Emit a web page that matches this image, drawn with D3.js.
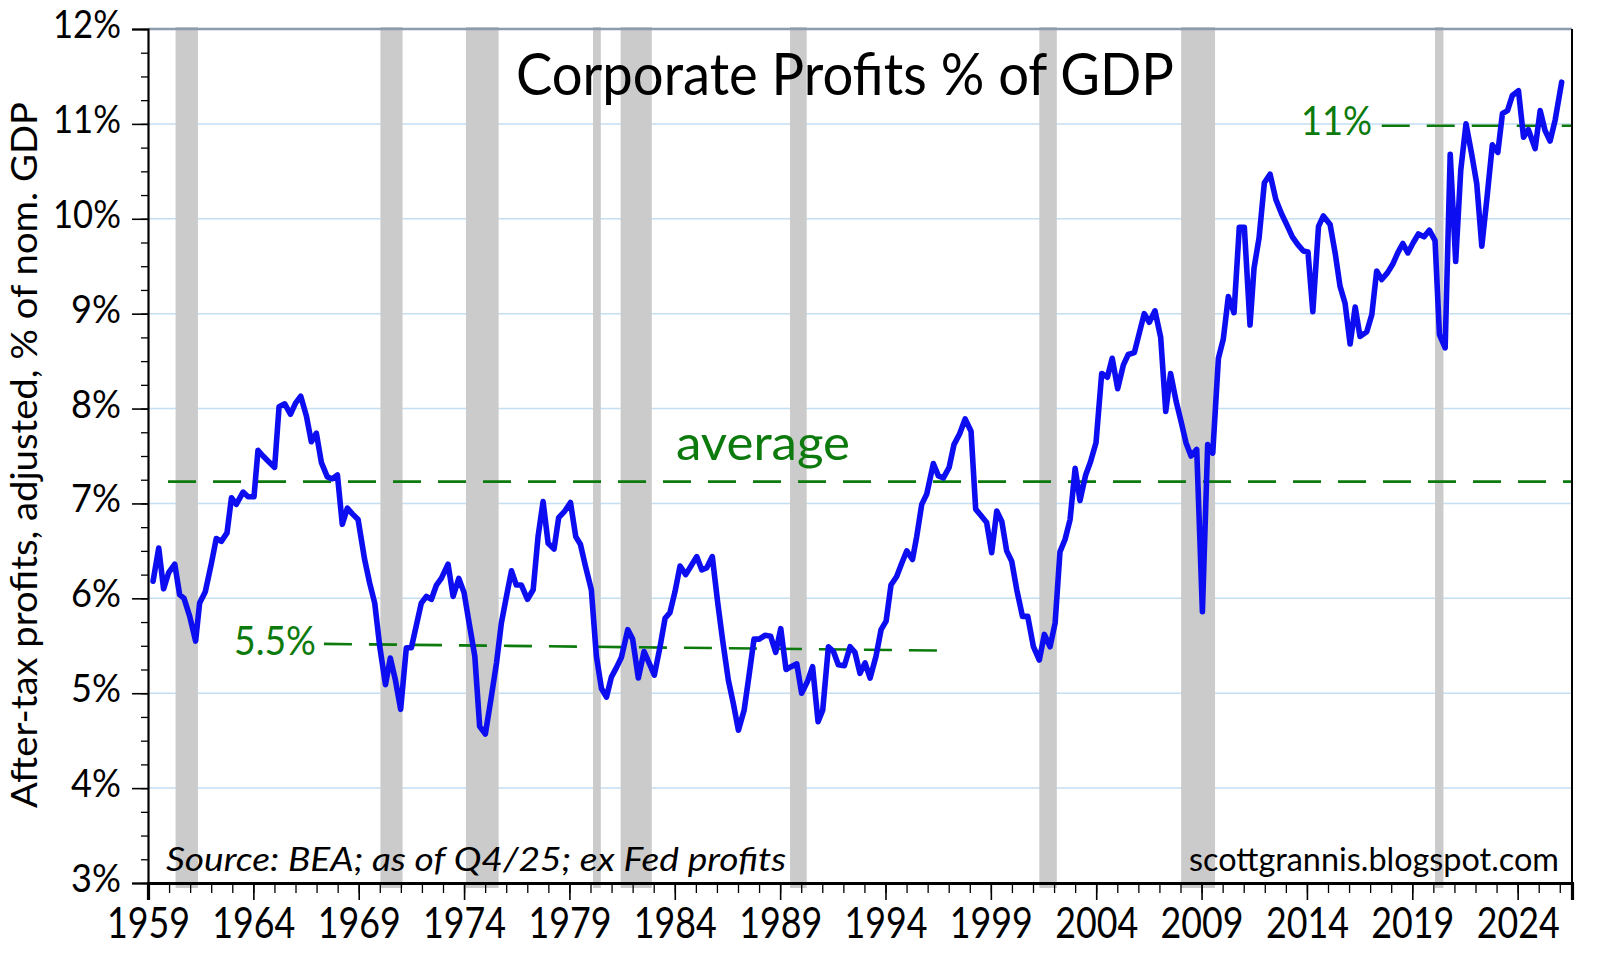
<!DOCTYPE html>
<html lang="en">
<head>
<meta charset="UTF-8">
<title>Corporate Profits % of GDP</title>
<style>
    body { margin: 0; background: #fff; }
    svg { display: block; font-family: Lato, "Open Sans", sans-serif; }
    .tick text { fill: #000; }
</style>
</head>
<body>
<svg id="chart" width="1600" height="962"></svg>
<script src="https://cdn.jsdelivr.net/npm/d3@7/dist/d3.min.js"></script>
<script>
// profits as % of nominal GDP (decimal year, value)
const years = [
    1959.24, 1959.51, 1959.74, 1959.98, 1960.27, 1960.50, 1960.71, 1960.98, 1961.26, 1961.45,
    1961.72, 1962.01, 1962.24, 1962.48, 1962.75, 1962.96, 1963.19, 1963.51, 1963.75, 1964.03,
    1964.22, 1964.46, 1964.73, 1965.01, 1965.22, 1965.49, 1965.76, 1966.01, 1966.25, 1966.52,
    1966.75, 1966.99, 1967.23, 1967.51, 1967.75, 1967.99, 1968.22, 1968.46, 1968.70, 1968.97,
    1969.28, 1969.52, 1969.76, 1970.00, 1970.27, 1970.50, 1970.74, 1970.99, 1971.26, 1971.50,
    1971.74, 1971.97, 1972.21, 1972.45, 1972.69, 1972.92, 1973.24, 1973.48, 1973.75, 1974.00,
    1974.24, 1974.51, 1974.74, 1975.01, 1975.27, 1975.54, 1975.77, 1976.01, 1976.25, 1976.48,
    1976.72, 1977.01, 1977.28, 1977.51, 1977.75, 1977.99, 1978.27, 1978.49, 1978.78, 1979.05,
    1979.30, 1979.52, 1979.76, 1980.04, 1980.28, 1980.52, 1980.76, 1980.99, 1981.23, 1981.47,
    1981.77, 1982.00, 1982.27, 1982.54, 1982.78, 1983.03, 1983.30, 1983.54, 1983.77, 1984.01,
    1984.25, 1984.52, 1984.77, 1985.04, 1985.28, 1985.51, 1985.78, 1986.04, 1986.27, 1986.54,
    1986.78, 1987.02, 1987.29, 1987.52, 1987.76, 1988.01, 1988.28, 1988.55, 1988.79, 1989.03,
    1989.28, 1989.52, 1989.79, 1990.02, 1990.29, 1990.54, 1990.80, 1991.02, 1991.29, 1991.53,
    1991.76, 1992.05, 1992.32, 1992.55, 1992.79, 1993.03, 1993.27, 1993.55, 1993.79, 1994.03,
    1994.26, 1994.53, 1994.77, 1995.01, 1995.28, 1995.48, 1995.72, 1995.96, 1996.27, 1996.51,
    1996.75, 1997.02, 1997.25, 1997.51, 1997.78, 1998.06, 1998.28, 1998.54, 1998.80, 1999.04,
    1999.28, 1999.52, 1999.75, 1999.99, 2000.23, 2000.50, 2000.75, 2001.02, 2001.30, 2001.54,
    2001.81, 2002.05, 2002.28, 2002.52, 2002.76, 2003.00, 2003.23, 2003.50, 2003.73, 2003.99,
    2004.26, 2004.53, 2004.76, 2005.02, 2005.29, 2005.52, 2005.81, 2006.05, 2006.28, 2006.52,
    2006.79, 2007.06, 2007.30, 2007.53, 2007.79, 2008.02, 2008.26, 2008.50, 2008.77, 2009.04,
    2009.29, 2009.53, 2009.80, 2010.03, 2010.27, 2010.54, 2010.79, 2011.03, 2011.30, 2011.49,
    2011.73, 2011.98, 2012.25, 2012.53, 2012.80, 2013.04, 2013.31, 2013.56, 2013.83, 2014.05,
    2014.28, 2014.55, 2014.78, 2015.10, 2015.34, 2015.57, 2015.81, 2016.05, 2016.29, 2016.52,
    2016.84, 2017.08, 2017.31, 2017.55, 2017.82, 2018.07, 2018.31, 2018.55, 2018.79, 2019.05,
    2019.29, 2019.56, 2019.81, 2020.08, 2020.29, 2020.56, 2020.80, 2021.06, 2021.30, 2021.55,
    2021.82, 2022.06, 2022.30, 2022.54, 2022.80, 2023.06, 2023.28, 2023.52, 2023.75, 2024.04,
    2024.28, 2024.51, 2024.83, 2025.07, 2025.30, 2025.54, 2025.78, 2026.09
];
const profitPct = [
    6.18, 6.53, 6.10, 6.27, 6.36, 6.04, 6.00, 5.81, 5.55, 5.95,
    6.07, 6.37, 6.63, 6.60, 6.69, 7.06, 6.99, 7.12, 7.07, 7.07,
    7.56, 7.50, 7.44, 7.38, 8.02, 8.05, 7.94, 8.06, 8.13, 7.92,
    7.65, 7.74, 7.43, 7.28, 7.26, 7.30, 6.78, 6.95, 6.89, 6.83,
    6.41, 6.16, 5.95, 5.49, 5.09, 5.37, 5.14, 4.83, 5.48, 5.48,
    5.72, 5.95, 6.02, 5.99, 6.14, 6.21, 6.36, 6.02, 6.21, 6.06,
    5.74, 5.39, 4.65, 4.57, 4.93, 5.32, 5.74, 6.02, 6.29, 6.14,
    6.14, 5.99, 6.09, 6.65, 7.02, 6.58, 6.52, 6.85, 6.92, 7.01,
    6.65, 6.57, 6.34, 6.09, 5.39, 5.05, 4.96, 5.17, 5.27, 5.38,
    5.67, 5.57, 5.16, 5.44, 5.32, 5.19, 5.49, 5.79, 5.85, 6.07,
    6.34, 6.25, 6.34, 6.44, 6.30, 6.32, 6.44, 5.95, 5.56, 5.14,
    4.89, 4.61, 4.82, 5.18, 5.57, 5.57, 5.61, 5.60, 5.43, 5.68,
    5.25, 5.28, 5.31, 5.00, 5.12, 5.28, 4.70, 4.82, 5.49, 5.44,
    5.30, 5.29, 5.49, 5.43, 5.21, 5.32, 5.16, 5.39, 5.67, 5.76,
    6.14, 6.23, 6.37, 6.50, 6.41, 6.65, 6.99, 7.10, 7.42, 7.29,
    7.27, 7.38, 7.62, 7.73, 7.89, 7.76, 6.94, 6.87, 6.80, 6.48,
    6.92, 6.81, 6.50, 6.39, 6.09, 5.81, 5.81, 5.49, 5.35, 5.62,
    5.49, 5.74, 6.49, 6.62, 6.83, 7.37, 7.03, 7.30, 7.44, 7.64,
    8.37, 8.33, 8.53, 8.21, 8.46, 8.57, 8.59, 8.80, 9.00, 8.91,
    9.03, 8.75, 7.97, 8.37, 8.08, 7.87, 7.64, 7.50, 7.57, 5.86,
    7.62, 7.53, 8.53, 8.73, 9.18, 9.01, 9.91, 9.91, 8.88, 9.48,
    9.80, 10.38, 10.47, 10.20, 10.05, 9.94, 9.81, 9.73, 9.66, 9.65,
    9.02, 9.92, 10.03, 9.94, 9.64, 9.29, 9.11, 8.68, 9.07, 8.76,
    8.81, 8.99, 9.45, 9.36, 9.43, 9.52, 9.64, 9.74, 9.64, 9.75,
    9.84, 9.81, 9.88, 9.77, 8.78, 8.64, 10.68, 9.55, 10.51, 11.00,
    10.68, 10.37, 9.71, 10.21, 10.78, 10.70, 11.11, 11.14, 11.30, 11.35,
    10.86, 10.94, 10.74, 11.14, 10.93, 10.82, 11.04, 11.44
];

// recession shading as drawn on the chart
const recessionStart = [1960.31, 1970.03, 1974.09, 1980.12, 1981.43, 1989.47, 2001.30, 2008.03, 2020.08];
const recessionEnd   = [1961.37, 1971.08, 1975.64, 1980.49, 1982.91, 1990.26, 2002.13, 2009.64, 2020.48];

// reference lines: [x0, x1, y0, y1]
const averageLine = [1959.95, 2026.58, 7.23, 7.23];
const lowLine = [1967.35, 1996.59, 5.52, 5.45];
const highLine = [2017.55, 2026.58, 10.98, 10.98];

const yearTicks = d3.range(1959, 2025, 5);
const pctTicks = d3.range(3, 13, 1);
const gridValues = d3.range(4, 12, 1);

const svg = d3.select("#chart");
const plotLeft = 148, plotRight = 1572, plotTop = 29, plotBottom = 883;

const x = d3.scaleLinear().domain([1959, 2026.58]).range([plotLeft, plotRight]);
const y = d3.scaleLinear().domain([3, 12]).range([plotBottom, plotTop]);

const green = "#0c7a0c";

// gridlines
svg.append("g").selectAll("line")
    .data(gridValues)
    .join("line")
    .attr("x1", plotLeft).attr("x2", plotRight)
    .attr("y1", d => y(d)).attr("y2", d => y(d))
    .attr("stroke", "#c4def2")
    .attr("stroke-width", 1.5);

// recession bars
svg.append("g").selectAll("rect")
    .data(recessionStart)
    .join("rect")
    .attr("x", d => x(d))
    .attr("width", (d, i) => x(recessionEnd[i]) - x(d))
    .attr("y", plotTop - 2)
    .attr("height", plotBottom - plotTop + 7)
    .attr("fill", "#cbcbcb");

// dashed reference lines
svg.append("g").selectAll("line")
    .data([averageLine, lowLine, highLine])
    .join("line")
    .attr("x1", d => x(d[0])).attr("x2", d => x(d[1]))
    .attr("y1", d => y(d[2])).attr("y2", d => y(d[3]))
    .attr("stroke", green)
    .attr("stroke-width", 2.6)
    .attr("stroke-dasharray", "28,17");

// frame
svg.append("line").attr("x1", plotLeft).attr("x2", plotRight).attr("y1", plotTop).attr("y2", plotTop)
    .attr("stroke", "#8d9cac").attr("stroke-width", 2.5);
svg.append("line").attr("x1", plotRight).attr("x2", plotRight).attr("y1", plotTop).attr("y2", plotBottom)
    .attr("stroke", "#000").attr("stroke-width", 2);

// y axis: major + minor ticks
const yMinor = svg.append("g")
    .attr("transform", `translate(${plotLeft},0)`)
    .call(d3.axisLeft(y).tickValues(d3.range(3, 12.01, 0.25)).tickSize(7).tickFormat(""));
yMinor.select(".domain").remove();
yMinor.selectAll("line").attr("stroke", "#000").attr("stroke-width", 1.3);

const yAxis = svg.append("g")
    .attr("transform", `translate(${plotLeft},0)`)
    .attr("font-family", "Lato, sans-serif")
    .call(d3.axisLeft(y).tickValues(pctTicks).tickSize(16).tickPadding(11).tickFormat(d => d + "%"));
yAxis.attr("font-family", "Lato, sans-serif");
yAxis.select(".domain").attr("stroke", "#000").attr("stroke-width", 2.2);
yAxis.selectAll("line").attr("stroke", "#000").attr("stroke-width", 1.6);
yAxis.selectAll("text")
    .attr("dy", 0).attr("y", 8.5)
    .attr("textLength", 68).attr("lengthAdjust", "spacingAndGlyphs")
    .style("font-size", "38px");
// single-digit labels are narrower
yAxis.selectAll("text").filter(d => d < 10).attr("textLength", 50);

// x axis: major + minor ticks
const xMinor = svg.append("g")
    .attr("transform", `translate(0,${plotBottom})`)
    .call(d3.axisBottom(x).tickValues(d3.range(1959, 2027, 1)).tickSize(10).tickFormat(""));
xMinor.select(".domain").remove();
xMinor.selectAll("line").attr("stroke", "#000").attr("stroke-width", 1.3);

const xAxis = svg.append("g")
    .attr("transform", `translate(0,${plotBottom})`)
    .call(d3.axisBottom(x).tickValues(yearTicks).tickSize(17).tickFormat(d3.format("d")));
xAxis.attr("font-family", "Lato, sans-serif");
xAxis.select(".domain").attr("stroke", "#000").attr("stroke-width", 3.2);
xAxis.selectAll("line").attr("stroke", "#000").attr("stroke-width", 1.6);
xAxis.selectAll("text")
    .attr("y", 55).attr("dy", 0)
    .attr("textLength", 83).attr("lengthAdjust", "spacingAndGlyphs")
    .style("font-size", "42px");

// profit line
const line = d3.line()
    .x((d, i) => x(years[i]))
    .y(d => y(d));

svg.append("path")
    .datum(profitPct)
    .attr("d", line)
    .attr("fill", "none")
    .attr("stroke", "#0d0df2")
    .attr("stroke-width", 5.6)
    .attr("stroke-linejoin", "round")
    .attr("stroke-linecap", "round");

// labels
svg.append("text")
    .attr("x", 516).attr("y", 95)
    .attr("textLength", 658).attr("lengthAdjust", "spacingAndGlyphs")
    .style("font-size", "58px")
    .text("Corporate Profits % of GDP");

svg.append("text")
    .attr("transform", "translate(37,455) rotate(-90)")
    .attr("text-anchor", "middle")
    .attr("textLength", 706).attr("lengthAdjust", "spacingAndGlyphs")
    .style("font-size", "37px")
    .text("After-tax profits, adjusted, % of nom. GDP");

svg.append("text")
    .attr("x", 676).attr("y", 460)
    .attr("textLength", 174).attr("lengthAdjust", "spacingAndGlyphs")
    .style("font-size", "48px").attr("fill", green)
    .text("average");

svg.append("text")
    .attr("x", 234).attr("y", 655)
    .attr("textLength", 82).attr("lengthAdjust", "spacingAndGlyphs")
    .style("font-size", "40px").attr("fill", green)
    .text("5.5%");

svg.append("text")
    .attr("x", 1301).attr("y", 135)
    .attr("textLength", 71).attr("lengthAdjust", "spacingAndGlyphs")
    .style("font-size", "40px").attr("fill", green)
    .text("11%");

svg.append("text")
    .attr("x", 166).attr("y", 871)
    .attr("textLength", 620).attr("lengthAdjust", "spacingAndGlyphs")
    .style("font-size", "33px").style("font-style", "italic")
    .text("Source: BEA; as of Q4/25; ex Fed profits");

svg.append("text")
    .attr("x", 1189).attr("y", 871)
    .attr("textLength", 370).attr("lengthAdjust", "spacingAndGlyphs")
    .style("font-size", "33px")
    .text("scottgrannis.blogspot.com");
</script>
</body>
</html>
